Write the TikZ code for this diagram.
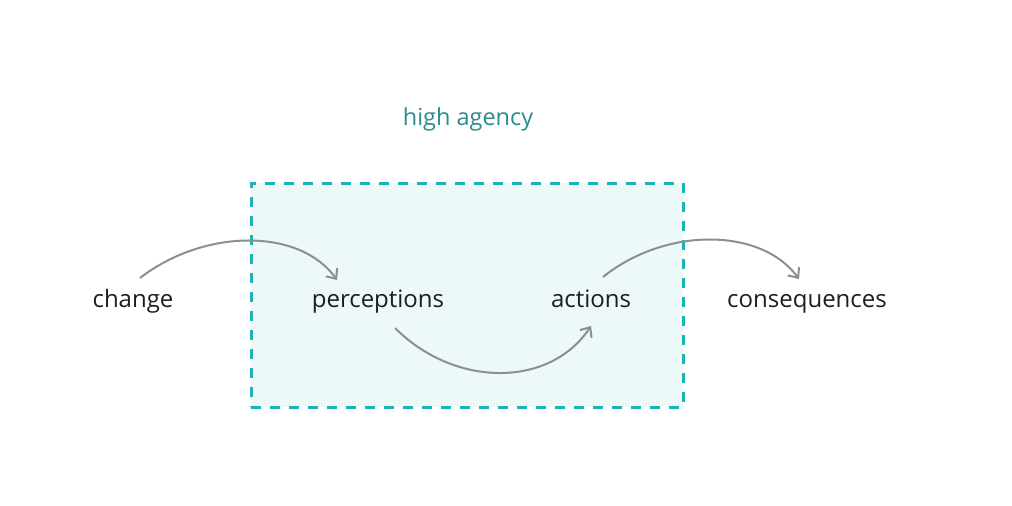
\documentclass[tikz,border=0pt]{standalone}
\usepackage{fontspec}
\setmainfont{Open Sans}
\usetikzlibrary{arrows.meta,calc}
\definecolor{boxfill}{HTML}{EDF8F8}
\definecolor{boxline}{HTML}{1BB3B8}
\definecolor{labelteal}{HTML}{2A8C8F}
\definecolor{arrowgray}{HTML}{8A8F8F}
\definecolor{ink}{HTML}{1E1E1E}
\begin{document}
\begin{tikzpicture}[x=1pt,y=-1pt,
  word/.style={anchor=base,inner sep=0pt,text=ink,font=\fontsize{24}{28}\selectfont},
  agency/.style={anchor=base,inner sep=0pt,text=labelteal,font=\fontsize{23.5}{28}\selectfont},
  frame/.style={draw=boxline,fill=boxfill,line width=3pt,dash pattern=on 10pt off 9pt,minimum width=432pt,minimum height=224pt,inner sep=0pt},
  flow/.style={draw=arrowgray,line width=2pt,-{Straight Barb[length=8pt,width=14pt,line width=2pt]}}]
\useasboundingbox (0,0) rectangle (1012,506);
\node[frame] (box) at (467,295) {};
\node[agency] (label) at (468,125) {high agency};
\node[word] (change) at (133,307) {change};
\node[word] (perceptions) at (378,307) {perceptions};
\node[word] (actions) at (591,307) {actions};
\node[word] (consequences) at (807,307) {consequences};
\draw[flow] ($(change.base)+(7,-29)$) .. controls +(65,-50) and +(-37,-52) .. ($(perceptions.base)+(-41,-27)$);
\draw[flow] ($(perceptions.base)+(17,21)$) .. controls +(60,60) and +(-41,62) .. ($(actions.base)+(0,19)$);
\draw[flow] ($(actions.base)+(12,-30)$) .. controls +(62,-50) and +(-38,-52) .. ($(consequences.base)+(-8,-28)$);
\end{tikzpicture}
\end{document}
